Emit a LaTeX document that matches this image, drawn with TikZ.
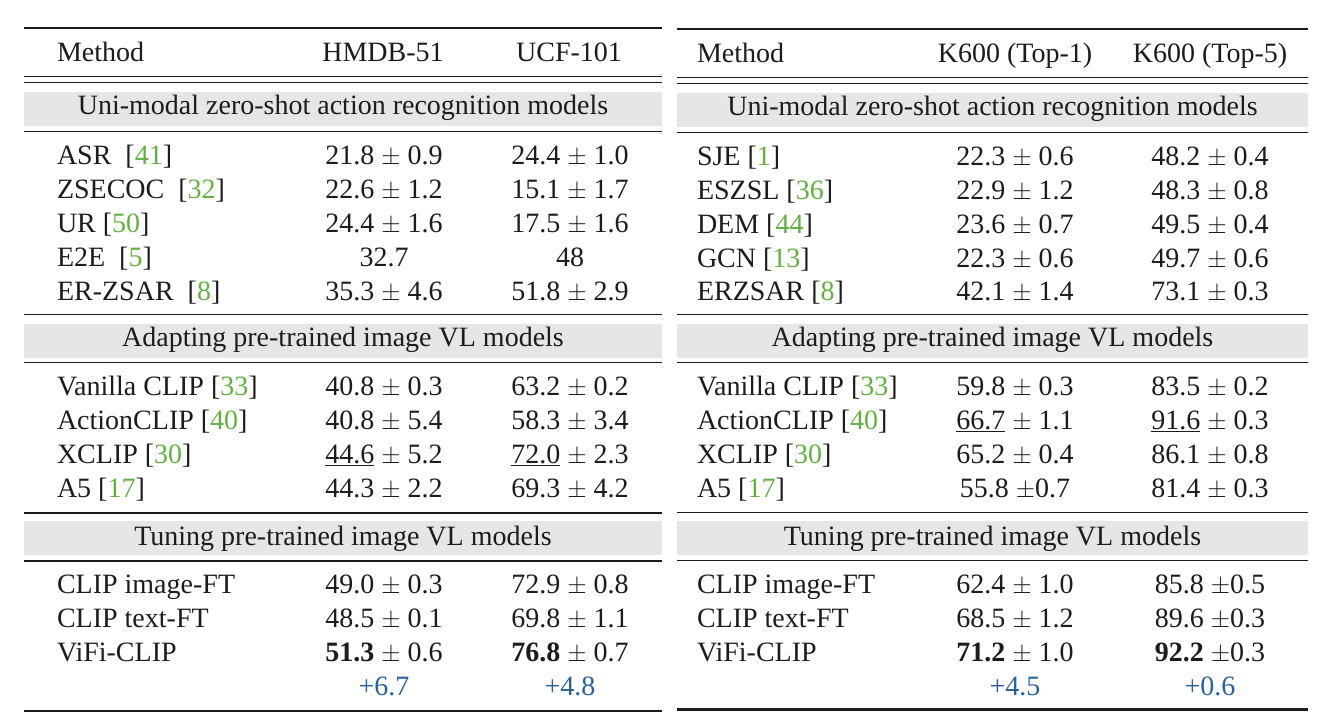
\documentclass[tikz,border=0pt]{standalone}
\usepackage{fontspec}
\setmainfont{Liberation Serif}
\definecolor{citegreen}{RGB}{98,178,64}
\definecolor{gainblue}{RGB}{40,98,158}
\definecolor{bandgray}{RGB}{230,230,230}
\definecolor{ink}{RGB}{28,28,28}
\newcommand{\cit}[1]{[\textcolor{citegreen}{#1}]}
\newcommand{\pmx}{$\pm$}
\newcommand{\lrow}[5]{%
  \node[meth] (#1m) at (57,#2) {#3};
  \node[val] (#1a) at (384,#2) {#4};
  \node[val] (#1b) at (570,#2) {#5};}
\newcommand{\rrow}[5]{%
  \node[meth] (#1m) at (697,#2) {#3};
  \node[val] (#1a) at (1015,#2) {#4};
  \node[val] (#1b) at (1210,#2) {#5};}
\begin{document}
\begin{tikzpicture}[x=1pt,y=-1pt,
  every node/.style={inner sep=0pt,outer sep=0pt,text=ink,font=\fontsize{28}{34}\selectfont},
  meth/.style={anchor=base west},
  val/.style={anchor=base},
  bandtext/.style={anchor=base},
  thickrule/.style={draw=ink,line width=2.4pt},
  thinrule/.style={draw=ink,line width=1.3pt},
  band/.style={fill=bandgray,draw=none},
  gain/.style={anchor=base,text=gainblue}]
\useasboundingbox (0,0) rectangle (1326,722);
% ---------------- left table ----------------
\fill[band] (24,92) rectangle (662,126);
\fill[band] (24,324) rectangle (662,357.7);
\fill[band] (24,521) rectangle (662,554.5);
\draw[thickrule] (24,28) -- (662,28);
\draw[thinrule] (24,76.3) -- (662,76.3);
\draw[thinrule] (24,82.7) -- (662,82.7);
\draw[thinrule] (24,131.3) -- (662,131.3);
\draw[thinrule] (24,314.3) -- (662,314.3);
\draw[thinrule] (24,362.7) -- (662,362.7);
\draw[thinrule] (24,513) -- (662,513);
\draw[thinrule] (24,561) -- (662,561);
\draw[thickrule] (24,710.7) -- (662,710.7);
\node[meth] (lhm) at (57,62) {Method};
\node[val] (lha) at (383,62) {HMDB-51};
\node[val] (lhb) at (569,62) {UCF-101};
\node[bandtext] (lb1) at (343,115) {Uni-modal zero-shot action recognition models};
\lrow{la}{165}{ASR~~\cit{41}}{21.8 \pmx{} 0.9}{24.4 \pmx{} 1.0}
\lrow{lb}{199}{ZSECOC~~\cit{32}}{22.6 \pmx{} 1.2}{15.1 \pmx{} 1.7}
\lrow{lc}{233}{UR~\cit{50}}{24.4 \pmx{} 1.6}{17.5 \pmx{} 1.6}
\lrow{ld}{267}{E2E~~\cit{5}}{32.7}{48}
\lrow{le}{301}{ER-ZSAR~~\cit{8}}{35.3 \pmx{} 4.6}{51.8 \pmx{} 2.9}
\node[bandtext] (lb2) at (343,346.7) {Adapting pre-trained image VL models};
\lrow{lf}{395.5}{Vanilla CLIP \cit{33}}{40.8 \pmx{} 0.3}{63.2 \pmx{} 0.2}
\lrow{lg}{429.5}{ActionCLIP \cit{40}}{40.8 \pmx{} 5.4}{58.3 \pmx{} 3.4}
\lrow{lh}{463.5}{XCLIP \cit{30}}{\underline{44.6} \pmx{} 5.2}{\underline{72.0} \pmx{} 2.3}
\lrow{li}{497.5}{A5 \cit{17}}{44.3 \pmx{} 2.2}{69.3 \pmx{} 4.2}
\node[bandtext] (lb3) at (343,545) {Tuning pre-trained image VL models};
\lrow{lj}{593.5}{CLIP image-FT}{49.0 \pmx{} 0.3}{72.9 \pmx{} 0.8}
\lrow{lk}{627.5}{CLIP text-FT}{48.5 \pmx{} 0.1}{69.8 \pmx{} 1.1}
\lrow{ll}{661.5}{ViFi-CLIP}{\textbf{51.3} \pmx{} 0.6}{\textbf{76.8} \pmx{} 0.7}
\node[gain] (lga) at (384,695.5) {+6.7};
\node[gain] (lgb) at (570,695.5) {+4.8};
% ---------------- right table ----------------
\fill[band] (677,93) rectangle (1308,126.7);
\fill[band] (677,324) rectangle (1308,358);
\fill[band] (677,521) rectangle (1308,555);
\draw[thickrule] (677,29.3) -- (1308,29.3);
\draw[thinrule] (677,77.3) -- (1308,77.3);
\draw[thinrule] (677,83.3) -- (1308,83.3);
\draw[thinrule] (677,132.3) -- (1308,132.3);
\draw[thinrule] (677,314.3) -- (1308,314.3);
\draw[thinrule] (677,362.7) -- (1308,362.7);
\draw[thinrule] (677,512.7) -- (1308,512.7);
\draw[thinrule] (677,560.5) -- (1308,560.5);
\draw[thickrule] (677,709.5) -- (1308,709.5);
\node[meth] (rhm) at (697,63) {Method};
\node[val] (rha) at (1015,63) {K600 (Top-1)};
\node[val] (rhb) at (1210,63) {K600 (Top-5)};
\node[bandtext] (rb1) at (992.5,115.5) {Uni-modal zero-shot action recognition models};
\rrow{ra}{165.5}{SJE \cit{1}}{22.3 \pmx{} 0.6}{48.2 \pmx{} 0.4}
\rrow{rb}{199.5}{ESZSL \cit{36}}{22.9 \pmx{} 1.2}{48.3 \pmx{} 0.8}
\rrow{rc}{233.5}{DEM \cit{44}}{23.6 \pmx{} 0.7}{49.5 \pmx{} 0.4}
\rrow{rd}{267.5}{GCN \cit{13}}{22.3 \pmx{} 0.6}{49.7 \pmx{} 0.6}
\rrow{re}{301}{ERZSAR \cit{8}}{42.1 \pmx{} 1.4}{73.1 \pmx{} 0.3}
\node[bandtext] (rb2) at (992.5,346.7) {Adapting pre-trained image VL models};
\rrow{rf}{395.5}{Vanilla CLIP \cit{33}}{59.8 \pmx{} 0.3}{83.5 \pmx{} 0.2}
\rrow{rg}{429.5}{ActionCLIP \cit{40}}{\underline{66.7} \pmx{} 1.1}{\underline{91.6} \pmx{} 0.3}
\rrow{rh}{463.5}{XCLIP \cit{30}}{65.2 \pmx{} 0.4}{86.1 \pmx{} 0.8}
\rrow{ri}{497.5}{A5 \cit{17}}{55.8 \pmx0.7}{81.4 \pmx{} 0.3}
\node[bandtext] (rb3) at (992.5,545) {Tuning pre-trained image VL models};
\rrow{rj}{593.5}{CLIP image-FT}{62.4 \pmx{} 1.0}{85.8 \pmx0.5}
\rrow{rk}{627.5}{CLIP text-FT}{68.5 \pmx{} 1.2}{89.6 \pmx0.3}
\rrow{rl}{661.5}{ViFi-CLIP}{\textbf{71.2} \pmx{} 1.0}{\textbf{92.2} \pmx0.3}
\node[gain] (rga) at (1015,695.5) {+4.5};
\node[gain] (rgb) at (1210,695.5) {+0.6};
\end{tikzpicture}
\end{document}
